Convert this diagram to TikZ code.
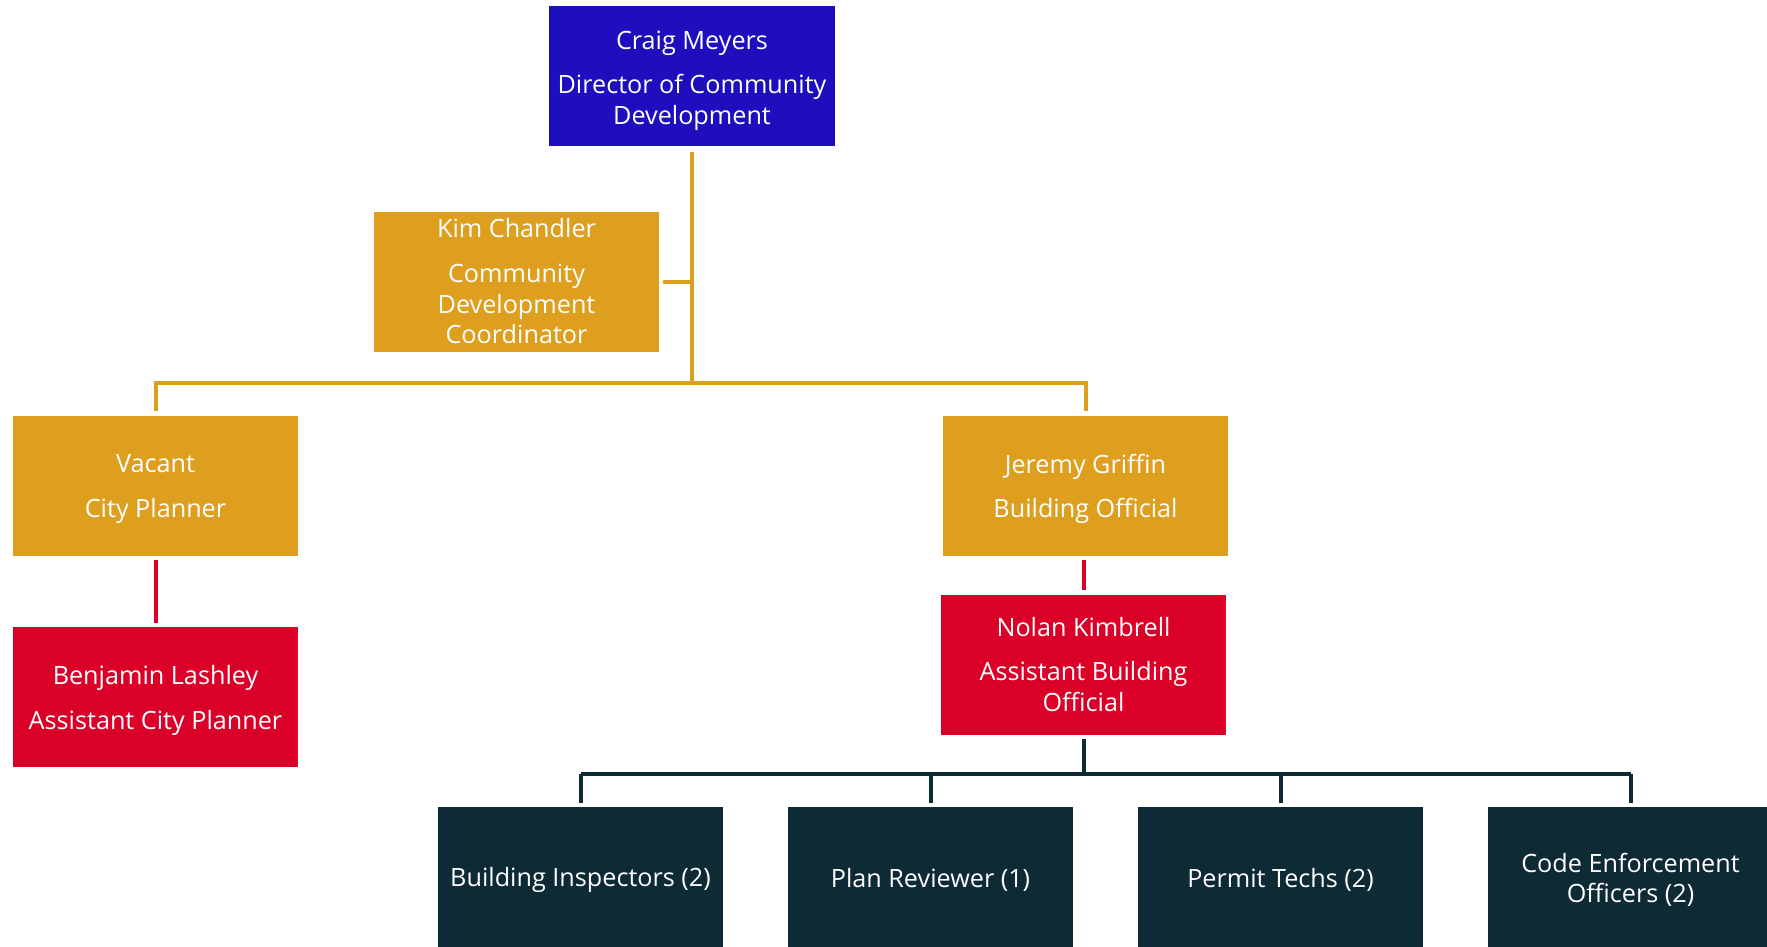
\documentclass[tikz,border=0pt]{standalone}
\usepackage{fontspec}
\setmainfont{Open Sans}
\definecolor{cblue}{HTML}{1F0EBE}
\definecolor{cgold}{HTML}{DE9F1F}
\definecolor{cred}{HTML}{DA0028}
\definecolor{cdark}{HTML}{0E2A35}
\begin{document}
\begin{tikzpicture}[x=0.75pt,y=-0.75pt,
  boxbase/.style={rectangle, minimum width=285*0.75pt, minimum height=140*0.75pt, inner sep=0pt},
  bluebox/.style={boxbase, fill=cblue},
  goldbox/.style={boxbase, fill=cgold},
  redbox/.style={boxbase, fill=cred},
  darkbox/.style={boxbase, fill=cdark},
  boxtext/.style={text=white, inner sep=0pt, align=center, font=\fontsize{18.9}{23}\selectfont},
  goldline/.style={draw=cgold, line width=3pt},
  redline/.style={draw=cred, line width=3pt},
  darkline/.style={draw=cdark, line width=3pt}]
\useasboundingbox (0,0) rectangle (1767,946);
\clip (0,0) rectangle (1767,946);

\node[bluebox, minimum width=286*0.75pt] (craig) at (692,76) {};
\node[goldbox] (kim) at (516.5,282) {};
\node[goldbox] (vacant) at (155.5,485.5) {};
\node[goldbox] (jeremy) at (1085.5,485.5) {};
\node[redbox] (benjamin) at (155.5,697) {};
\node[redbox] (nolan) at (1083.5,664.5) {};
\node[darkbox] (bi) at (580.5,877) {};
\node[darkbox] (pr) at (930.5,877) {};
\node[darkbox] (pt) at (1280.5,877) {};
\node[darkbox] (ce) at (1630.5,877) {};

\node[boxtext] (craigT) at ([yshift=-3.4pt]craig.center) {Craig Meyers\\[10.5pt]Director of Community\\Development};
\node[boxtext] (kimT) at ([yshift=0.5pt]kim.center) {Kim Chandler\\[10.5pt]Community\\Development\\Coordinator};
\node[boxtext] (vacantT) at ([yshift=-2.5pt]vacant.center) {Vacant\\[10.5pt]City Planner};
\node[boxtext] (jeremyT) at ([yshift=-2.5pt]jeremy.center) {Jeremy Griffin\\[10.5pt]Building Official};
\node[boxtext] (benjaminT) at ([yshift=-2.5pt]benjamin.center) {Benjamin Lashley\\[10.5pt]Assistant City Planner};
\node[boxtext] (nolanT) at (nolan.center) {Nolan Kimbrell\\[10.5pt]Assistant Building\\Official};
\node[boxtext] (biT) at ([yshift=-2.1pt]bi.center) {Building Inspectors (2)};
\node[boxtext] (prT) at ([yshift=-2.1pt]pr.center) {Plan Reviewer (1)};
\node[boxtext] (ptT) at ([yshift=-2.1pt]pt.center) {Permit Techs (2)};
\node[boxtext] (ceT) at ([yshift=-2.1pt]ce.center) {Code Enforcement\\Officers (2)};

\coordinate (hy) at (0,382.5);
\coordinate (dy) at (0,774);

\draw[goldline] ([yshift=-4.5pt]craig.south) -- (craig.south |- hy);
\draw[goldline] ([xshift=3pt]kim.east) -- (kim.east -| craig.south);
\draw[goldline] ([yshift=3pt]vacant.north) -- (vacant.north |- hy) -- (jeremy.north |- hy) -- ([yshift=3pt]jeremy.north);

\draw[redline] ([yshift=-3pt]vacant.south) -- ([yshift=3pt]benjamin.north);
\draw[redline] (nolan.north |- jeremy.south) ++(0,4) -- ([yshift=3pt]nolan.north);

\draw[darkline] ([yshift=-3pt]nolan.south) -- (nolan.south |- dy);
\draw[darkline] (bi.north |- dy) -- (ce.north |- dy);
\foreach \n in {bi,pr,pt,ce}{
  \draw[darkline] (\n.north |- dy) -- ([yshift=3pt]\n.north);
}
\end{tikzpicture}
\end{document}
